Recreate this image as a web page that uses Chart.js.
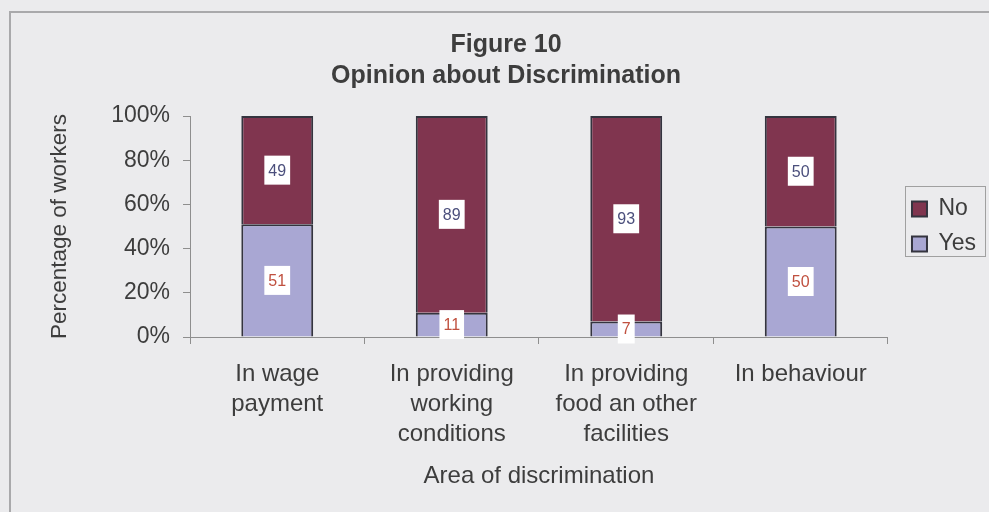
<html>
  <head>
    <title>Figure 10 - Opinion about Discrimination</title>
    <script src="https://cdn.jsdelivr.net/npm/chart.js@4.4.0/dist/chart.umd.min.js"></script>
    <style>
      body { margin: 0; background: #ebebed; }
      #wrap { width: 989px; height: 512px; }
    </style>
  </head>
  <body>
    <div id="wrap">
      <canvas id="fig10"></canvas>
    </div>
    <script>
      // categories and values
      var areas = [
        ['In wage', 'payment'],
        ['In providing', 'working', 'conditions'],
        ['In providing', 'food an other', 'facilities'],
        ['In behaviour']
      ];
      var yesValues = [51, 11, 7, 50];
      var noValues = [49, 89, 93, 50];
      var yTicks = [0, 20, 40, 60, 80, 100];

      var textColor = '#3d3d3d';
      var fontFamily = '"Liberation Sans", Arial, sans-serif';

      // outer frame of the figure
      var framePlugin = {
        id: 'frame',
        beforeDraw: function(chart) {
          var ctx = chart.ctx;
          ctx.save();
          ctx.strokeStyle = '#a9a9ab';
          ctx.lineWidth = 2;
          ctx.strokeRect(10, 12, 1000, 520);
          ctx.restore();
        }
      };

      // white boxed value labels in the middle of every segment
      var valueLabels = {
        id: 'valueLabels',
        afterDatasetsDraw: function(chart) {
          var ctx = chart.ctx;
          ctx.save();
          ctx.font = '16px ' + fontFamily;
          ctx.textAlign = 'center';
          ctx.textBaseline = 'middle';
          chart.data.datasets.forEach(function(ds, i) {
            var meta = chart.getDatasetMeta(i);
            meta.data.forEach(function(bar, j) {
              var txt = String(ds.data[j]);
              var cy = (bar.y + bar.base) / 2;
              var w = ctx.measureText(txt).width + 8;
              var h = 29;
              ctx.fillStyle = '#ffffff';
              ctx.fillRect(bar.x - w / 2, cy - h / 2, w, h);
              ctx.fillStyle = ds.labelColor;
              ctx.fillText(txt, bar.x, cy + 1);
            });
          });
          ctx.restore();
        }
      };

      // legend sits a bit right of the plot, with a thin box round it
      var legendBox = {
        id: 'legendBox',
        afterLayout: function(chart) {
          chart.legend.left += 12;
          chart.legend.right += 12;
        },
        afterDraw: function(chart) {
          var lg = chart.legend;
          if (!lg || !lg.columnSizes || !lg.columnSizes.length) return;
          var pad = lg.options.labels.padding;
          var colH = lg.columnSizes[0].height;
          var y0 = (lg.top + pad + lg.bottom - colH) / 2;
          var x0 = lg.left + pad - 6;
          var ctx = chart.ctx;
          ctx.save();
          ctx.strokeStyle = '#a0a0a0';
          ctx.lineWidth = 1;
          ctx.strokeRect(Math.round(x0) - 0.5, Math.round(y0 - 11) - 0.5, Math.round(lg.right - x0), Math.round(colH - pad + 12));
          ctx.restore();
        }
      };

      new Chart('fig10', {
        type: 'bar',
        data: {
          labels: areas,
          datasets: [
            {
              label: 'Yes',
              data: yesValues,
              backgroundColor: '#a9a7d3',
              borderColor: '#34343f',
              borderWidth: 2,
              labelColor: '#c0503f'
            },
            {
              label: 'No',
              data: noValues,
              backgroundColor: '#80354f',
              borderColor: '#34343f',
              borderWidth: 2,
              labelColor: '#4b4f7c'
            }
          ]
        },
        options: {
          responsive: true,
          maintainAspectRatio: false,
          animation: false,
          layout: {
            padding: { left: 38, right: 15, top: 0, bottom: 0 }
          },
          datasets: {
            bar: {
              categoryPercentage: 1,
              barPercentage: 0.412
            }
          },
          scales: {
            x: {
              stacked: true,
              afterFit: function(scale) { scale.height = 175; },
              border: { color: '#8e8e8e', width: 1 },
              grid: {
                drawOnChartArea: false,
                offset: true,
                tickLength: 7,
                color: '#8e8e8e'
              },
              ticks: {
                color: textColor,
                padding: 15,
                maxRotation: 0,
                autoSkip: false,
                font: { family: fontFamily, size: 24, lineHeight: 1.25 }
              },
              title: {
                display: true,
                text: 'Area of discrimination',
                color: textColor,
                padding: { top: 0, bottom: 21 },
                font: { family: fontFamily, size: 24 }
              }
            },
            y: {
              stacked: true,
              min: 0,
              max: 100,
              afterFit: function(scale) { scale.width = 152; },
              afterBuildTicks: function(scale) {
                scale.ticks = yTicks.map(function(v) { return { value: v }; });
              },
              border: { color: '#8e8e8e', width: 1 },
              grid: {
                drawOnChartArea: false,
                tickLength: 7,
                color: '#8e8e8e'
              },
              ticks: {
                color: textColor,
                padding: 13,
                font: { family: fontFamily, size: 23 },
                callback: function(v) { return v + '%'; }
              },
              title: {
                display: true,
                text: 'Percentage of workers',
                color: textColor,
                padding: { top: 8, bottom: 0 },
                font: { family: fontFamily, size: 22.5 }
              }
            }
          },
          plugins: {
            title: {
              display: true,
              text: ['Figure 10', 'Opinion about Discrimination'],
              color: textColor,
              padding: { top: 29, bottom: 24 },
              font: { family: fontFamily, size: 25, weight: 'bold', lineHeight: 1.26 }
            },
            legend: {
              position: 'right',
              fullSize: false,
              reverse: true,
              labels: {
                color: textColor,
                boxWidth: 15,
                boxHeight: 15,
                padding: 12,
                font: { family: fontFamily, size: 23 }
              }
            },
            tooltip: { enabled: false }
          }
        },
        plugins: [framePlugin, valueLabels, legendBox]
      });
    </script>
  </body>
</html>
